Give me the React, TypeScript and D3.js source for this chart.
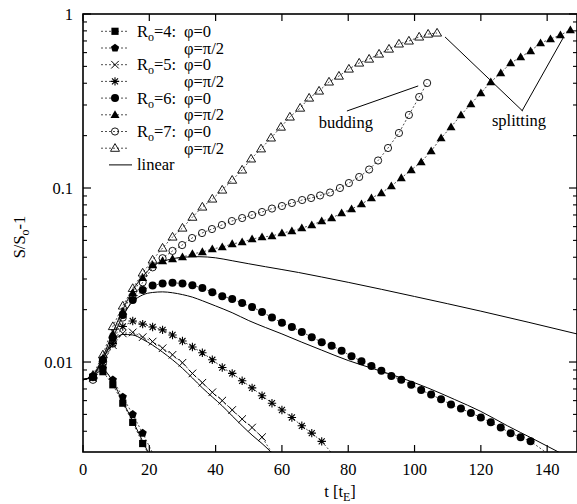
import React from 'react';
import * as d3 from 'd3';

const W = 577;
const H = 504;

// ---------- data ----------
const T_R4_0 = [3, 6, 9, 12, 15, 18, 21];
const V_R4_0 = [0.0082, 0.0088, 0.0074, 0.0058, 0.0045, 0.0034, 0.0027];

const T_R4_90 = [3, 6, 9, 12, 15, 18, 21];
const V_R4_90 = [0.0083, 0.0092, 0.0079, 0.0063, 0.005, 0.0039, 0.003];

const T_R5_0 = [3, 6, 9, 12, 15, 18, 21, 24, 27, 30, 33, 36, 39, 42, 45, 48, 51, 54, 57];
const V_R5_0 = [0.0081, 0.0098, 0.0125, 0.0146, 0.0148, 0.0139, 0.0131, 0.012, 0.011, 0.0099, 0.0086, 0.0076, 0.0067, 0.006, 0.0053, 0.0047, 0.0042, 0.0037, 0.003];

const T_R5_90 = [3, 6, 9, 12, 15, 18, 21, 24, 27, 30, 33, 36, 39, 42, 45, 48, 51, 54, 57, 60, 63, 66, 69, 72, 75];
const V_R5_90 = [0.0082, 0.01, 0.0128, 0.016, 0.0172, 0.0165, 0.0159, 0.0153, 0.0143, 0.0132, 0.0122, 0.0113, 0.0103, 0.0093, 0.0086, 0.0078, 0.0071, 0.0064, 0.0058, 0.0053, 0.0048, 0.0043, 0.0039, 0.0035, 0.003];

const T_R6_0 = [3, 6, 9, 12, 15, 18, 21, 24, 27, 30, 33, 36, 39, 42, 45, 48, 51, 54, 57, 60, 63, 66, 69, 72, 75, 78, 81, 84, 87, 90, 93, 96, 99, 102, 105, 108, 111, 114, 117, 120, 123, 126, 129, 132, 135, 141];
const V_R6_0 = [0.0082, 0.0103, 0.0138, 0.0186, 0.0227, 0.0259, 0.0275, 0.0283, 0.0285, 0.0283, 0.0276, 0.0266, 0.0252, 0.0239, 0.023, 0.0218, 0.0207, 0.0194, 0.018, 0.0168, 0.0159, 0.0149, 0.0139, 0.013, 0.0124, 0.0116, 0.0108, 0.0101, 0.0095, 0.0089, 0.0083, 0.0079, 0.0074, 0.0069, 0.0065, 0.0061, 0.0057, 0.0054, 0.0051, 0.0048, 0.0045, 0.0042, 0.0039, 0.0037, 0.0035, 0.0029];

const T_R6_90 = [3, 6, 9, 12, 15, 18, 21, 24, 27, 30, 33, 36, 39, 42, 45, 48, 51, 54, 57, 60, 63, 66, 69, 72, 75, 78, 81, 84, 87, 90, 93, 96, 99, 102, 105, 108, 111, 114, 117, 120, 123, 126, 129, 132, 135, 138, 141, 144, 147];
const V_R6_90 = [0.0083, 0.0105, 0.0145, 0.0195, 0.025, 0.0305, 0.0361, 0.0381, 0.0391, 0.0401, 0.0418, 0.0429, 0.0446, 0.0458, 0.0477, 0.0489, 0.0509, 0.0523, 0.053, 0.0551, 0.0566, 0.0589, 0.0613, 0.0646, 0.0672, 0.0718, 0.0757, 0.0809, 0.0876, 0.0936, 0.1027, 0.1142, 0.1269, 0.1411, 0.1632, 0.1938, 0.2241, 0.2628, 0.3039, 0.3516, 0.4066, 0.458, 0.5229, 0.5661, 0.6129, 0.6813, 0.7183, 0.7573, 0.8091];

const T_R7_0 = [3, 6, 9, 12, 15, 18, 21, 24, 27, 29.9, 32.9, 35.9, 38.9, 41.9, 44.9, 48.0, 51.0, 54.0, 57.0, 60.0, 63.0, 66.1, 68.8, 71.5, 74.5, 77.5, 80.2, 83.3, 86.3, 89.0, 92.0, 95.3, 98.3, 101.4, 103.8];
const V_R7_0 = [0.0079, 0.0098, 0.0128, 0.018, 0.0232, 0.0287, 0.035, 0.0395, 0.0435, 0.047, 0.0516, 0.0551, 0.0581, 0.0613, 0.0646, 0.0672, 0.07, 0.0728, 0.0762, 0.0788, 0.082, 0.0853, 0.0876, 0.0906, 0.0942, 0.1, 0.1068, 0.1157, 0.1277, 0.1439, 0.1698, 0.2071, 0.2628, 0.3334, 0.4013];

const T_R7_90 = [3, 6, 9, 12, 15, 18, 21, 24, 27, 30, 33, 36, 39, 42, 45, 48.0, 50.7, 53.7, 56.7, 59.7, 62.4, 65.5, 68.2, 71.2, 74.2, 77.2, 80.2, 83.3, 86.3, 89.3, 92.3, 95.3, 98.3, 101.4, 104.1, 106.8];
const V_R7_90 = [0.0084, 0.011, 0.016, 0.021, 0.0265, 0.0325, 0.0386, 0.0452, 0.0523, 0.0589, 0.068, 0.0778, 0.0865, 0.0974, 0.111, 0.127, 0.147, 0.168, 0.194, 0.224, 0.256, 0.288, 0.329, 0.361, 0.407, 0.44, 0.483, 0.523, 0.551, 0.589, 0.629, 0.673, 0.7, 0.738, 0.767, 0.778];

// linear-theory curves
const T_LIN4 = [0, 3, 6, 9, 12, 15, 18, 21];
const V_LIN4 = [0.0079, 0.0083, 0.009, 0.0077, 0.0059, 0.0046, 0.0035, 0.0027];

const T_LIN5 = [0, 3, 6, 9, 12, 15, 18, 21, 24, 27, 30, 33, 36, 39, 42, 45, 48, 51, 54, 57, 60];
const V_LIN5 = [0.0079, 0.0084, 0.0104, 0.013, 0.0144, 0.0143, 0.0135, 0.0125, 0.0114, 0.0103, 0.0092, 0.0081, 0.0071, 0.0063, 0.0056, 0.0049, 0.0043, 0.0038, 0.0034, 0.003, 0.0026];

const T_LIN6 = [0, 3, 6, 9, 12, 15, 18, 21, 24, 27, 30, 33, 36, 40, 45, 50, 55, 60, 66, 72, 80, 88, 96, 104, 112, 120, 128, 136, 144];
const V_LIN6 = [0.0079, 0.0083, 0.0104, 0.0137, 0.0185, 0.0222, 0.0243, 0.0251, 0.0253, 0.025, 0.0244, 0.0236, 0.0225, 0.021, 0.0192, 0.0173, 0.0158, 0.0145, 0.013, 0.0117, 0.0102, 0.0091, 0.0081, 0.0071, 0.0061, 0.0052, 0.0043, 0.0036, 0.003];

const T_LIN7 = [0, 3, 6, 9, 12, 15, 18, 21, 24, 27, 30, 35, 40, 45, 50, 55, 60, 65, 72, 80, 100, 120, 149];
const V_LIN7 = [0.0079, 0.0084, 0.0107, 0.0148, 0.02, 0.0258, 0.031, 0.0355, 0.0378, 0.0392, 0.04, 0.0403, 0.0397, 0.0382, 0.0367, 0.0353, 0.034, 0.0327, 0.0308, 0.0287, 0.0238, 0.0196, 0.0145];

const X_TICKS = [0, 20, 40, 60, 80, 100, 120, 140];
const Y_TICKS = [0.01, 0.1, 1];
const Y_TICK_LABELS = ['0.01', '0.1', '1'];

const LEGEND_R = ['4', '', '5', '', '6', '', '7', ''];
const LEGEND_PHI = ['φ=0', 'φ=π/2', 'φ=0', 'φ=π/2', 'φ=0', 'φ=π/2', 'φ=0', 'φ=π/2'];

// annotations (data coordinates)
const BUDDING_LINE = [[79.6, 0.277], [101.1, 0.386]];
const BUDDING_TEXT = [79.3, 0.222];
const SPLIT_LINE_A = [[109.2, 0.738], [132.6, 0.277]];
const SPLIT_LINE_B = [[144.8, 0.728], [132.4, 0.277]];
const SPLIT_TEXT = [131.5, 0.228];

type Sym = 'square' | 'pentagon' | 'times' | 'asterisk' | 'circleFill' | 'triFill' | 'circleOpen' | 'triOpen';

const SERIES: { t: number[]; v: number[]; sym: Sym }[] = [
  { t: T_R4_0, v: V_R4_0, sym: 'square' },
  { t: T_R4_90, v: V_R4_90, sym: 'pentagon' },
  { t: T_R5_0, v: V_R5_0, sym: 'times' },
  { t: T_R5_90, v: V_R5_90, sym: 'asterisk' },
  { t: T_R6_0, v: V_R6_0, sym: 'circleFill' },
  { t: T_R6_90, v: V_R6_90, sym: 'triFill' },
  { t: T_R7_0, v: V_R7_0, sym: 'circleOpen' },
  { t: T_R7_90, v: V_R7_90, sym: 'triOpen' },
];

const LINEARS = [
  { t: T_LIN4, v: V_LIN4 },
  { t: T_LIN5, v: V_LIN5 },
  { t: T_LIN6, v: V_LIN6 },
  { t: T_LIN7, v: V_LIN7 },
];

const FONT = "'Liberation Serif', 'Times New Roman', Times, 'DejaVu Serif', serif";
const TXT = { fontFamily: FONT, fontSize: '16.5px' } as React.CSSProperties;
const SUB = { fontSize: '12px' } as React.CSSProperties;

function Marker({ sym, cx, cy }: { sym: Sym; cx: number; cy: number }) {
  switch (sym) {
    case 'square':
      return <rect x={cx - 3.6} y={cy - 3.6} width={7.2} height={7.2} fill="#000" />;
    case 'pentagon': {
      const r = 4.3;
      const pts = d3.range(5).map((i) => {
        const a = -Math.PI / 2 + (i * 2 * Math.PI) / 5;
        return `${cx + r * Math.cos(a)},${cy + r * Math.sin(a)}`;
      });
      return <polygon points={pts.join(' ')} fill="#000" />;
    }
    case 'times': {
      const r = 3.8;
      return (
        <path d={`M${cx - r},${cy - r}L${cx + r},${cy + r}M${cx - r},${cy + r}L${cx + r},${cy - r}`} stroke="#000" strokeWidth={1} fill="none" />
      );
    }
    case 'asterisk': {
      const r = 4.2;
      const d = r * 0.72;
      return (
        <path
          d={`M${cx - r},${cy}L${cx + r},${cy}M${cx},${cy - r}L${cx},${cy + r}M${cx - d},${cy - d}L${cx + d},${cy + d}M${cx - d},${cy + d}L${cx + d},${cy - d}`}
          stroke="#000"
          strokeWidth={1.1}
          fill="none"
        />
      );
    }
    case 'circleFill':
      return <circle cx={cx} cy={cy} r={4} fill="#000" />;
    case 'circleOpen':
      return <circle cx={cx} cy={cy} r={3.6} fill="none" stroke="#000" strokeWidth={0.9} />;
    case 'triFill':
      return <polygon points={`${cx},${cy - 4.6} ${cx + 4.5},${cy + 3.2} ${cx - 4.5},${cy + 3.2}`} fill="#000" />;
    case 'triOpen':
      return (
        <polygon points={`${cx},${cy - 4.6} ${cx + 4.5},${cy + 3.1} ${cx - 4.5},${cy + 3.1}`} fill="none" stroke="#000" strokeWidth={0.9} />
      );
  }
  return null;
}

export default function App() {
  const left = 83;
  const right = 577;
  const top = 14;
  const bottom = 452;

  const x = d3.scaleLinear().domain([0, 149]).range([left, right]);
  const y = d3.scaleLog().domain([0.00304, 1]).range([bottom, top]);
  const yMin = 0.00304;

  const dashedLine = d3
    .line<[number, number]>()
    .x((d) => x(d[0]))
    .y((d) => y(d[1]));
  const smoothLine = d3
    .line<[number, number]>()
    .x((d) => x(d[0]))
    .y((d) => y(d[1]))
    .curve(d3.curveMonotoneX);

  const minorTicks: number[] = [];
  [-3, -2, -1].forEach((e) => {
    for (let k = 2; k <= 9; k++) {
      const v = k * Math.pow(10, e);
      if (v >= yMin && v < 1) minorTicks.push(v);
    }
  });

  const legendY0 = 31.3;
  const legendStep = 16.7;

  return (
    <svg width={W} height={H} style={{ display: 'block', position: 'absolute', left: 0, top: 0 }}>
      <rect x={0} y={0} width={W} height={H} fill="#fff" />
      <defs>
        <clipPath id="plotclip">
          <rect x={left} y={top} width={right - left} height={bottom - top} />
        </clipPath>
      </defs>

      <g clipPath="url(#plotclip)">
        {LINEARS.map((s, i) => (
          <path
            key={'lin' + i}
            d={smoothLine(s.t.map((t, j) => [t, s.v[j]] as [number, number])) || ''}
            fill="none"
            stroke="#000"
            strokeWidth={1}
          />
        ))}
        {SERIES.map((s, i) => (
          <path
            key={'dl' + i}
            d={dashedLine(s.t.map((t, j) => [t, s.v[j]] as [number, number])) || ''}
            fill="none"
            stroke="#222"
            strokeWidth={0.8}
            strokeDasharray="2,2"
          />
        ))}
        {SERIES.map((s, i) =>
          s.t.map((t, j) =>
            s.v[j] >= yMin ? <Marker key={`m${i}-${j}`} sym={s.sym} cx={x(t)} cy={y(s.v[j])} /> : null
          )
        )}
      </g>

      <g stroke="#000" strokeWidth={1} fill="none">
        <line x1={x(BUDDING_LINE[0][0])} y1={y(BUDDING_LINE[0][1])} x2={x(BUDDING_LINE[1][0])} y2={y(BUDDING_LINE[1][1])} />
        <line x1={x(SPLIT_LINE_A[0][0])} y1={y(SPLIT_LINE_A[0][1])} x2={x(SPLIT_LINE_A[1][0])} y2={y(SPLIT_LINE_A[1][1])} />
        <line x1={x(SPLIT_LINE_B[0][0])} y1={y(SPLIT_LINE_B[0][1])} x2={x(SPLIT_LINE_B[1][0])} y2={y(SPLIT_LINE_B[1][1])} />
      </g>
      <text x={x(BUDDING_TEXT[0])} y={y(BUDDING_TEXT[1])} style={TXT} textAnchor="middle">
        budding
      </text>
      <text x={x(SPLIT_TEXT[0])} y={y(SPLIT_TEXT[1])} style={TXT} textAnchor="middle">
        splitting
      </text>

      <rect x={left} y={top} width={right - left} height={bottom - top} fill="none" stroke="#000" strokeWidth={1.6} />

      {X_TICKS.map((t) => (
        <g key={'xt' + t}>
          <line x1={x(t)} x2={x(t)} y1={bottom} y2={bottom - 7} stroke="#000" strokeWidth={1.2} />
          <line x1={x(t)} x2={x(t)} y1={top} y2={top + 7} stroke="#000" strokeWidth={1.2} />
          <text x={x(t)} y={475} style={TXT} textAnchor="middle">
            {t}
          </text>
        </g>
      ))}

      {Y_TICKS.map((v, i) => (
        <g key={'yt' + v}>
          <line x1={left} x2={left + 8} y1={y(v)} y2={y(v)} stroke="#000" strokeWidth={1.2} />
          <line x1={right} x2={right - 8} y1={y(v)} y2={y(v)} stroke="#000" strokeWidth={1.2} />
          <text x={73} y={y(v) + 5.5} style={TXT} textAnchor="end">
            {Y_TICK_LABELS[i]}
          </text>
        </g>
      ))}
      {minorTicks.map((v) => (
        <g key={'ym' + v}>
          <line x1={left} x2={left + 4} y1={y(v)} y2={y(v)} stroke="#000" strokeWidth={1.1} />
          <line x1={right} x2={right - 4} y1={y(v)} y2={y(v)} stroke="#000" strokeWidth={1.1} />
        </g>
      ))}

      <text x={340} y={497} style={TXT} textAnchor="middle">
        t [t
        <tspan style={SUB} dy={4}>
          E
        </tspan>
        <tspan dy={-4}>]</tspan>
      </text>
      <text transform="translate(25,237) rotate(-90)" style={TXT} textAnchor="middle">
        S/S
        <tspan style={SUB} dy={4}>
          o
        </tspan>
        <tspan dy={-4}>-1</tspan>
      </text>

      {SERIES.map((s, i) => {
        const cy = legendY0 + i * legendStep;
        return (
          <g key={'lg' + i}>
            <line x1={101} x2={129} y1={cy} y2={cy} stroke="#222" strokeWidth={0.8} strokeDasharray="2,2" />
            <Marker sym={s.sym} cx={115} cy={cy} />
            {LEGEND_R[i] !== '' && (
              <text x={137} y={cy + 5.5} style={TXT}>
                R
                <tspan style={SUB} dy={4}>
                  o
                </tspan>
                <tspan dy={-4}>{'=' + LEGEND_R[i] + ':'}</tspan>
              </text>
            )}
            <text x={184} y={cy + 5.5} style={TXT}>
              {LEGEND_PHI[i]}
            </text>
          </g>
        );
      })}
      <line x1={109} x2={132} y1={legendY0 + 8 * legendStep} y2={legendY0 + 8 * legendStep} stroke="#000" strokeWidth={1} />
      <text x={137} y={legendY0 + 8 * legendStep + 5.5} style={TXT}>
        linear
      </text>
    </svg>
  );
}
